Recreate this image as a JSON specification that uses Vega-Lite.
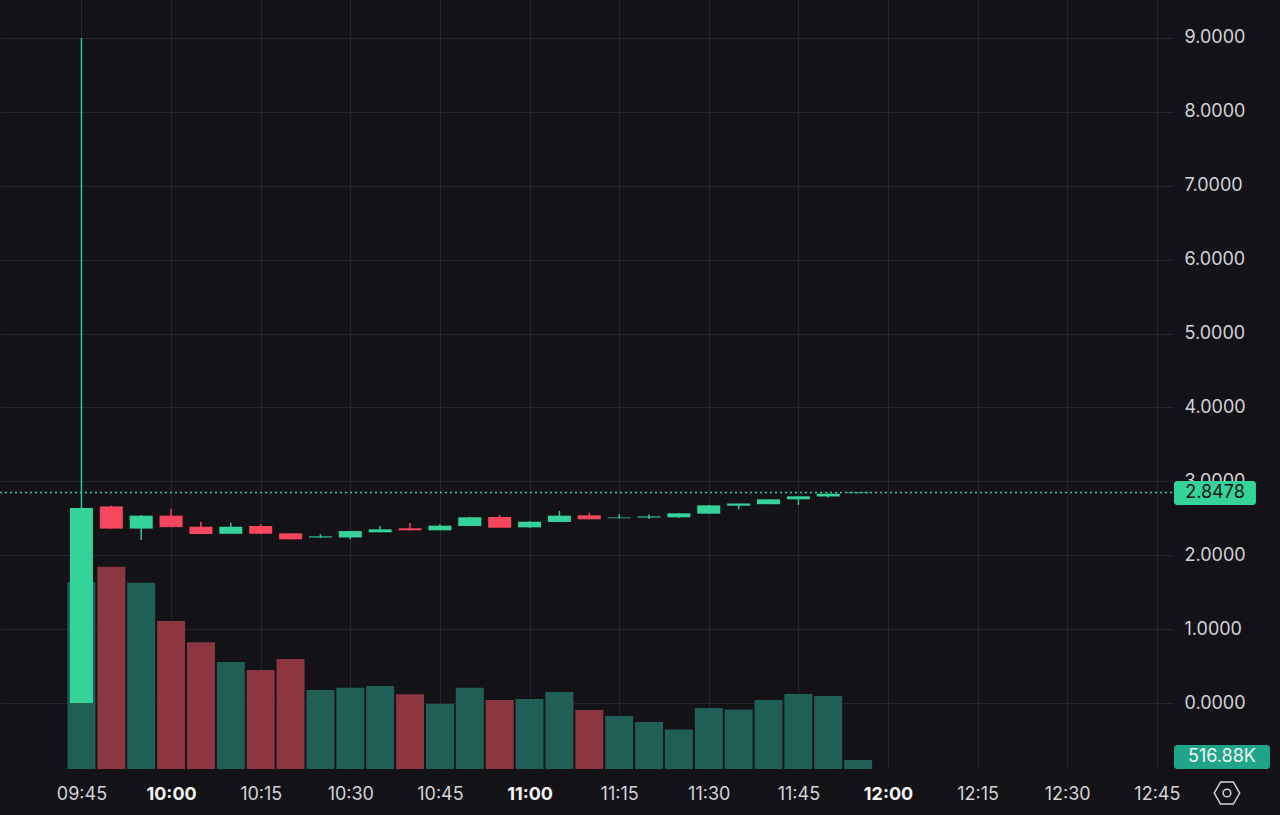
{
  "$schema": "https://vega.github.io/schema/vega-lite/v6.json",
  "width": 1172,
  "height": 769,
  "autosize": {"type": "none"},
  "padding": {"left": 0, "top": 0, "right": 108, "bottom": 46},
  "background": "#131217",
  "config": {
    "view": {"stroke": null, "fill": "#131217"},
    "font": "Inter",
    "axis": {
      "gridColor": "#26252b",
      "gridWidth": 1,
      "ticks": false,
      "domain": false,
      "labelFont": "Inter",
      "labelFontSize": 18,
      "labelColor": "#d4d4d8",
      "zindex": 0
    }
  },
  "data": {
    "values": [
      {"t": "2024-01-02T09:45:00Z", "open": 0.001, "high": 9.0, "low": 0.001, "close": 2.64, "volume": 10722000},
      {"t": "2024-01-02T09:50:00Z", "open": 2.66, "high": 2.67, "low": 2.36, "close": 2.36, "volume": 11618000},
      {"t": "2024-01-02T09:55:00Z", "open": 2.36, "high": 2.54, "low": 2.205, "close": 2.535, "volume": 10699000},
      {"t": "2024-01-02T10:00:00Z", "open": 2.535, "high": 2.625, "low": 2.38, "close": 2.38, "volume": 8500000},
      {"t": "2024-01-02T10:05:00Z", "open": 2.386, "high": 2.453, "low": 2.287, "close": 2.287, "volume": 7276000},
      {"t": "2024-01-02T10:10:00Z", "open": 2.29, "high": 2.44, "low": 2.29, "close": 2.385, "volume": 6145000},
      {"t": "2024-01-02T10:15:00Z", "open": 2.395, "high": 2.418, "low": 2.29, "close": 2.29, "volume": 5686000},
      {"t": "2024-01-02T10:20:00Z", "open": 2.296, "high": 2.296, "low": 2.215, "close": 2.215, "volume": 6317000},
      {"t": "2024-01-02T10:25:00Z", "open": 2.24, "high": 2.285, "low": 2.235, "close": 2.255, "volume": 4537000},
      {"t": "2024-01-02T10:30:00Z", "open": 2.24, "high": 2.33, "low": 2.215, "close": 2.327, "volume": 4669000},
      {"t": "2024-01-02T10:35:00Z", "open": 2.31, "high": 2.395, "low": 2.31, "close": 2.35, "volume": 4767000},
      {"t": "2024-01-02T10:40:00Z", "open": 2.364, "high": 2.436, "low": 2.337, "close": 2.337, "volume": 4290000},
      {"t": "2024-01-02T10:45:00Z", "open": 2.337, "high": 2.42, "low": 2.337, "close": 2.4, "volume": 3733000},
      {"t": "2024-01-02T10:50:00Z", "open": 2.395, "high": 2.52, "low": 2.395, "close": 2.513, "volume": 4669000},
      {"t": "2024-01-02T10:55:00Z", "open": 2.517, "high": 2.544, "low": 2.372, "close": 2.372, "volume": 3963000},
      {"t": "2024-01-02T11:00:00Z", "open": 2.377, "high": 2.46, "low": 2.37, "close": 2.453, "volume": 4020000},
      {"t": "2024-01-02T11:05:00Z", "open": 2.45, "high": 2.6, "low": 2.45, "close": 2.535, "volume": 4422000},
      {"t": "2024-01-02T11:10:00Z", "open": 2.54, "high": 2.575, "low": 2.486, "close": 2.486, "volume": 3388000},
      {"t": "2024-01-02T11:15:00Z", "open": 2.5, "high": 2.553, "low": 2.5, "close": 2.51, "volume": 3044000},
      {"t": "2024-01-02T11:20:00Z", "open": 2.51, "high": 2.55, "low": 2.49, "close": 2.525, "volume": 2699000},
      {"t": "2024-01-02T11:25:00Z", "open": 2.513, "high": 2.57, "low": 2.505, "close": 2.567, "volume": 2274000},
      {"t": "2024-01-02T11:30:00Z", "open": 2.562, "high": 2.68, "low": 2.562, "close": 2.675, "volume": 3503000},
      {"t": "2024-01-02T11:35:00Z", "open": 2.67, "high": 2.7, "low": 2.62, "close": 2.7, "volume": 3423000},
      {"t": "2024-01-02T11:40:00Z", "open": 2.69, "high": 2.756, "low": 2.69, "close": 2.756, "volume": 3963000},
      {"t": "2024-01-02T11:45:00Z", "open": 2.756, "high": 2.8, "low": 2.68, "close": 2.797, "volume": 4307000},
      {"t": "2024-01-02T11:50:00Z", "open": 2.795, "high": 2.835, "low": 2.78, "close": 2.832, "volume": 4192000},
      {"t": "2024-01-02T11:55:00Z", "open": 2.84, "high": 2.8478, "low": 2.84, "close": 2.8478, "volume": 516880}
    ]
  },
  "layer": [
    {
      "mark": {"type": "bar", "size": 28},
      "encoding": {
        "x": {
          "field": "t",
          "type": "temporal",
          "title": null,
          "scale": {"type": "utc", "domain": [1704187882000, 1704199652000], "padding": 0},
          "axis": {
            "orient": "bottom",
            "format": "%H:%M",
            "values": [1704188700000, 1704189600000, 1704190500000, 1704191400000, 1704192300000, 1704193200000, 1704194100000, 1704195000000, 1704195900000, 1704196800000, 1704197700000, 1704198600000, 1704199500000],
            "labelPadding": 16,
            "labelFlush": false,
            "labelOverlap": false,
            "labelBound": false,
            "grid": true,
            "labelFontWeight": {"condition": {"test": "utcminutes(datum.value) === 0", "value": "bold"}, "value": "normal"},
            "labelColor": {"condition": {"test": "utcminutes(datum.value) === 0", "value": "#f4f4f5"}, "value": "#d4d4d8"}
          }
        },
        "y": {
          "field": "volume",
          "type": "quantitative",
          "title": null,
          "scale": {"domain": [0, 44160000], "nice": false, "zero": true},
          "axis": null
        },
        "color": {
          "condition": {"test": "datum.close >= datum.open", "value": "#1f5f56"},
          "value": "#8b3640"
        }
      }
    },
    {
      "layer": [
        {
          "mark": {"type": "rule", "strokeWidth": 1.5},
          "encoding": {
            "x": {"field": "t", "type": "temporal", "title": null},
            "y": {
              "field": "low",
              "type": "quantitative",
              "title": null,
              "scale": {"domain": [-0.893, 9.513], "nice": false, "zero": false},
              "axis": {
                "orient": "right",
                "values": [0, 1, 2, 3, 4, 5, 6, 7, 8, 9],
                "format": ".4f",
                "labelPadding": 12,
                "labelAlign": "left",
                "grid": true
              }
            },
            "y2": {"field": "high"},
            "color": {
              "condition": {"test": "datum.close >= datum.open", "value": "#2fc593"},
              "value": "#f6465d"
            }
          }
        },
        {
          "mark": {"type": "bar", "size": 23},
          "encoding": {
            "x": {"field": "t", "type": "temporal", "title": null},
            "y": {"field": "open", "type": "quantitative", "title": null},
            "y2": {"field": "close"},
            "color": {
              "condition": {"test": "datum.close >= datum.open", "value": "#34d39a"},
              "value": "#f6465d"
            }
          }
        },
        {
          "data": {"values": [{}]},
          "mark": {"type": "rule", "strokeWidth": 1.5, "strokeDash": [2, 3], "color": "#34d39a"},
          "encoding": {
            "y": {"datum": 2.8478, "type": "quantitative", "title": null}
          }
        },
        {
          "data": {"values": [{}]},
          "mark": {"type": "rect", "cornerRadius": 3, "color": "#34d39a"},
          "encoding": {
            "x": {"datum": 1704199672000, "type": "temporal", "title": null},
            "x2": {"datum": 1704200495000},
            "y": {"datum": 3.004, "type": "quantitative", "title": null},
            "y2": {"datum": 2.679}
          }
        },
        {
          "data": {"values": [{}]},
          "mark": {"type": "text", "font": "Inter", "fontSize": 18, "color": "#131217", "align": "center", "baseline": "middle"},
          "encoding": {
            "x": {"datum": 1704200084000, "type": "temporal", "title": null},
            "y": {"datum": 2.8478, "type": "quantitative", "title": null},
            "text": {"datum": "2.8478"}
          }
        },
        {
          "data": {"values": [{}]},
          "mark": {"type": "rect", "cornerRadius": 3, "color": "#1fa68a"},
          "encoding": {
            "x": {"datum": 1704199672000, "type": "temporal", "title": null},
            "x2": {"datum": 1704200636000},
            "y": {"datum": -0.568, "type": "quantitative", "title": null},
            "y2": {"datum": -0.893}
          }
        },
        {
          "data": {"values": [{}]},
          "mark": {"type": "text", "font": "Inter", "fontSize": 18, "color": "#f4f4f5", "align": "center", "baseline": "middle"},
          "encoding": {
            "x": {"datum": 1704200154000, "type": "temporal", "title": null},
            "y": {"datum": -0.731, "type": "quantitative", "title": null},
            "text": {"datum": "516.88K"}
          }
        },
        {
          "data": {"values": [{}]},
          "mark": {
            "type": "point",
            "shape": "M -1 0 L -0.5 -0.866 L 0.5 -0.866 L 1 0 L 0.5 0.866 L -0.5 0.866 Z M 0.3 0 A 0.3 0.3 0 1 0 -0.3 0 A 0.3 0.3 0 1 0 0.3 0 Z",
            "size": 650,
            "filled": false,
            "strokeWidth": 1.5,
            "color": "#d4d4d8",
            "opacity": 1
          },
          "encoding": {
            "x": {"datum": 1704200204000, "type": "temporal", "title": null},
            "y": {"datum": -1.218, "type": "quantitative", "title": null}
          }
        }
      ]
    }
  ],
  "resolve": {"scale": {"y": "independent"}}
}
